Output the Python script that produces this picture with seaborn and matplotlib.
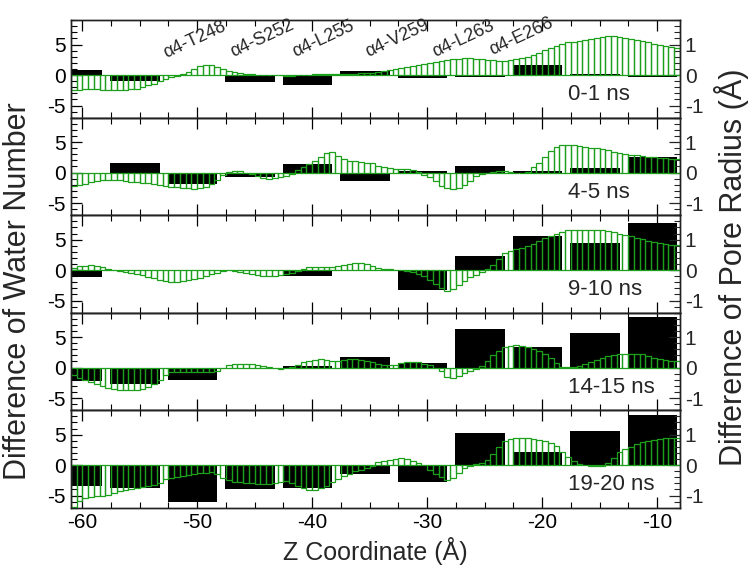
import numpy as np
import pandas as pd
import matplotlib
matplotlib.use("Agg")
import matplotlib.pyplot as plt
import seaborn as sns
from matplotlib.ticker import MultipleLocator

# ---------------- data ----------------
panel_labels = ["0-1 ns", "4-5 ns", "9-10 ns", "14-15 ns", "19-20 ns"]

water_z = [-60.4, -55.4, -50.4, -45.4, -40.4, -35.4, -30.4, -25.4, -20.4, -15.4, -10.4]
water_0_1 = [0.9, -0.9, 0.0, -1.2, -1.6, 0.7, -0.5, -0.3, 1.6, 0.15, -0.3]
water_4_5 = [0.0, 1.6, -1.8, -0.8, 1.4, -1.4, 0.2, 1.0, 0.3, 0.7, 2.5]
water_9_10 = [-1.2, 0.0, 0.0, 0.0, -1.0, 0.0, -3.3, 2.3, 5.6, 4.5, 7.7]
water_14_15 = [-2.2, -2.7, -2.0, 0.0, 0.3, 1.8, 0.8, 6.4, 3.3, 5.6, 8.3]
water_19_20 = [-3.4, -3.8, -6.1, -3.9, -3.8, -1.4, -2.7, 5.3, 2.1, 5.6, 8.3]

radius_z = np.arange(-60.75, -8.0, 0.5)  # 0.5 A slices from -61 to -8

radius_0_1 = [
    -0.50, -0.48, -0.47, -0.47, -0.47, -0.48, -0.48, -0.49, -0.49, -0.48,
    -0.47, -0.45, -0.40, -0.34, -0.28, -0.21, -0.14, -0.07, -0.02, 0.03,
    0.10, 0.20, 0.30, 0.33, 0.32, 0.27, 0.20, 0.14, 0.10, 0.06,
    0.03, 0.02, 0.01, 0.00, 0.00, -0.01, -0.01, -0.02, -0.02, -0.01,
    0.00, 0.01, 0.02, 0.03, 0.04, 0.05, 0.05, 0.05, 0.05, 0.05,
    0.06, 0.06, 0.07, 0.09, 0.12, 0.16, 0.20, 0.24, 0.27, 0.30,
    0.32, 0.35, 0.38, 0.42, 0.46, 0.49, 0.52, 0.54, 0.55, 0.55,
    0.54, 0.53, 0.50, 0.48, 0.47, 0.47, 0.49, 0.52, 0.55, 0.59,
    0.65, 0.73, 0.81, 0.88, 0.95, 1.01, 1.07, 1.10, 1.13, 1.16,
    1.19, 1.23, 1.26, 1.28, 1.27, 1.24, 1.21, 1.17, 1.14, 1.11,
    1.07, 1.03, 1.00, 0.96, 0.93, 0.90]
radius_4_5 = [
    -0.45, -0.40, -0.36, -0.31, -0.27, -0.24, -0.23, -0.24, -0.26, -0.28,
    -0.30, -0.31, -0.33, -0.35, -0.37, -0.40, -0.43, -0.46, -0.48, -0.50,
    -0.52, -0.53, -0.51, -0.46, -0.38, -0.25, -0.07, 0.03, 0.05, 0.04,
    0.00, -0.05, -0.10, -0.17, -0.20, -0.19, -0.16, -0.12, -0.06, 0.08,
    0.18, 0.27, 0.38, 0.52, 0.65, 0.68, 0.55, 0.45, 0.39, 0.37,
    0.35, 0.33, 0.30, 0.22, 0.18, 0.14, 0.13, 0.12, 0.11, 0.08,
    0.02, -0.08, -0.16, -0.29, -0.43, -0.51, -0.54, -0.50, -0.40, -0.28,
    -0.12, -0.04, 0.00, 0.02, 0.04, 0.04, 0.02, -0.03, -0.02, 0.02,
    0.18, 0.32, 0.50, 0.70, 0.83, 0.89, 0.90, 0.89, 0.87, 0.84,
    0.82, 0.80, 0.77, 0.73, 0.69, 0.65, 0.62, 0.59, 0.56, 0.54,
    0.52, 0.50, 0.49, 0.48, 0.46, 0.45]
radius_9_10 = [
    0.08, 0.13, 0.15, 0.17, 0.15, 0.09, 0.04, 0.00, -0.03, -0.07,
    -0.10, -0.13, -0.17, -0.23, -0.27, -0.32, -0.37, -0.40, -0.39, -0.35,
    -0.32, -0.29, -0.25, -0.20, -0.14, -0.08, -0.03, 0.00, -0.03, -0.07,
    -0.11, -0.14, -0.17, -0.20, -0.20, -0.19, -0.17, -0.13, -0.09, -0.02,
    0.05, 0.09, 0.10, 0.11, 0.11, 0.11, 0.13, 0.16, 0.19, 0.22,
    0.22, 0.20, 0.15, 0.08, 0.05, 0.02, 0.01, 0.00, -0.02, -0.06,
    -0.12, -0.20, -0.32, -0.45, -0.60, -0.70, -0.62, -0.48, -0.35, -0.24,
    -0.15, -0.06, 0.04, 0.18, 0.35, 0.56, 0.63, 0.69, 0.74, 0.80,
    0.87, 0.97, 1.06, 1.13, 1.19, 1.25, 1.30, 1.32, 1.33, 1.33,
    1.33, 1.33, 1.31, 1.27, 1.24, 1.20, 1.16, 1.11, 1.06, 1.01,
    0.97, 0.93, 0.89, 0.86, 0.83, 0.81]
radius_14_15 = [
    -0.24, -0.34, -0.41, -0.48, -0.54, -0.60, -0.66, -0.71, -0.72, -0.73,
    -0.73, -0.72, -0.69, -0.63, -0.55, -0.40, -0.25, -0.16, -0.14, -0.14,
    -0.14, -0.14, -0.14, -0.13, -0.13, -0.10, -0.03, 0.07, 0.11, 0.13,
    0.13, 0.12, 0.08, 0.04, 0.01, -0.02, -0.04, -0.02, 0.02, 0.10,
    0.17, 0.22, 0.26, 0.27, 0.24, 0.21, 0.21, 0.24, 0.27, 0.27,
    0.25, 0.21, 0.17, 0.11, 0.10, 0.07, 0.10, 0.15, 0.17, 0.18,
    0.17, 0.13, 0.08, 0.00, -0.12, -0.30, -0.34, -0.27, -0.18, -0.10,
    -0.04, 0.05, 0.20, 0.40, 0.56, 0.68, 0.72, 0.73, 0.71, 0.67,
    0.61, 0.53, 0.44, 0.30, 0.15, 0.03, 0.02, 0.02, 0.05, 0.12,
    0.19, 0.25, 0.32, 0.37, 0.42, 0.44, 0.46, 0.46, 0.45, 0.43,
    0.39, 0.33, 0.29, 0.26, 0.22, 0.20]
radius_19_20 = [
    -1.36, -1.19, -1.08, -1.04, -1.02, -1.00, -0.98, -0.92, -0.86, -0.82,
    -0.79, -0.76, -0.73, -0.69, -0.65, -0.59, -0.47, -0.41, -0.38, -0.35,
    -0.32, -0.29, -0.27, -0.25, -0.22, -0.28, -0.43, -0.50, -0.54, -0.57,
    -0.59, -0.60, -0.62, -0.63, -0.62, -0.58, -0.55, -0.53, -0.58, -0.67,
    -0.74, -0.81, -0.82, -0.76, -0.69, -0.55, -0.46, -0.37, -0.29, -0.21,
    -0.15, -0.09, -0.02, 0.10, 0.14, 0.18, 0.20, 0.22, 0.20, 0.14,
    0.07, 0.00, -0.17, -0.28, -0.40, -0.50, -0.42, -0.26, -0.10, -0.02,
    0.03, 0.08, 0.16, 0.35, 0.58, 0.80, 0.86, 0.89, 0.89, 0.88,
    0.86, 0.83, 0.79, 0.72, 0.63, 0.42, 0.27, 0.12, 0.05, 0.01,
    -0.02, -0.04, -0.02, 0.08, 0.22, 0.43, 0.52, 0.60, 0.68, 0.76,
    0.80, 0.84, 0.86, 0.88, 0.89, 0.89]

residue_labels = ["α4-T248", "α4-S252", "α4-L255", "α4-V259", "α4-L263", "α4-E266"]
residue_z = [-52.7, -46.9, -41.5, -35.1, -29.3, -24.3]
residue_y = [2.8, 3.0, 3.0, 3.0, 3.0, 3.3]

water_sets = [water_0_1, water_4_5, water_9_10, water_14_15, water_19_20]
radius_sets = [radius_0_1, radius_4_5, radius_9_10, radius_14_15, radius_19_20]

# ---------------- style ----------------
sns.set_theme(style="ticks")
plt.rcParams["font.family"] = ["Liberation Sans", "DejaVu Sans"]
plt.rcParams["axes.unicode_minus"] = False

GREEN = "#1ca01c"

fig, axes = plt.subplots(5, 1, sharex=True, figsize=(7.53, 5.77), dpi=100)
fig.subplots_adjust(left=0.094, right=0.903, top=0.965, bottom=0.12, hspace=0)

twins = []
for i, ax in enumerate(axes):
    wdf = pd.DataFrame({"z": water_z, "v": water_sets[i]})
    sns.barplot(data=wdf, x="z", y="v", native_scale=True, width=0.86,
                color="black", saturation=1, linewidth=0, errorbar=None, ax=ax)
    ax2 = ax.twinx()
    twins.append(ax2)
    rdf = pd.DataFrame({"z": radius_z, "r": radius_sets[i]})
    sns.barplot(data=rdf, x="z", y="r", native_scale=True, width=1.0,
                fill=False, color=GREEN, linewidth=0.9, errorbar=None, ax=ax2)
    for b in ax2.patches:
        b.set_edgecolor(GREEN)

    ax.set_ylim(-7, 9)
    ax2.set_ylim(-1.4, 1.8)
    ax.set_xlim(-61, -8)
    ax.set_xlabel("")
    ax.set_ylabel("")
    ax2.set_ylabel("")
    ax2.set_xlabel("")

    ax.yaxis.set_major_locator(MultipleLocator(5))
    ax.yaxis.set_minor_locator(MultipleLocator(1))
    ax2.yaxis.set_major_locator(MultipleLocator(1))
    ax2.yaxis.set_minor_locator(MultipleLocator(0.2))
    ax.xaxis.set_major_locator(MultipleLocator(10))
    ax.xaxis.set_minor_locator(MultipleLocator(2.5))

    ax.tick_params(axis="both", which="both", direction="in", top=True,
                   labelsize=15, colors="black")
    ax.tick_params(axis="both", which="major", length=8, width=0.9)
    ax.tick_params(axis="both", which="minor", length=4.5, width=0.8)
    ax2.tick_params(axis="y", which="both", direction="in", labelsize=15)
    ax2.tick_params(axis="y", which="major", length=8, width=0.9)
    ax2.tick_params(axis="y", which="minor", length=4.5, width=0.8)
    for s in list(ax.spines.values()) + list(ax2.spines.values()):
        s.set_linewidth(1.0)
        s.set_color("#222222")

    ax2.text(-17.7, -3.2, panel_labels[i], fontsize=16, ha="left", va="center",
             zorder=10, transform=ax.transData)
    if i < 4:
        ax.tick_params(axis="x", labelbottom=False)

# residue annotations on top panel (drawn above the radius bars)
for lab, zx, zy in zip(residue_labels, residue_z, residue_y):
    twins[0].text(zx, zy, lab, fontsize=13, rotation=25, rotation_mode="anchor",
                  ha="left", va="baseline", zorder=10, transform=axes[0].transData)

axes[-1].set_xlabel("Z Coordinate (Å)", fontsize=18)
fig.text(0.024, 0.495, "Difference of Water Number", rotation=90, fontsize=22,
         ha="center", va="center")
fig.text(0.972, 0.537, "Difference of Pore Radius (Å)", rotation=90, fontsize=22,
         ha="center", va="center")

fig.savefig("out.png", dpi=100)
